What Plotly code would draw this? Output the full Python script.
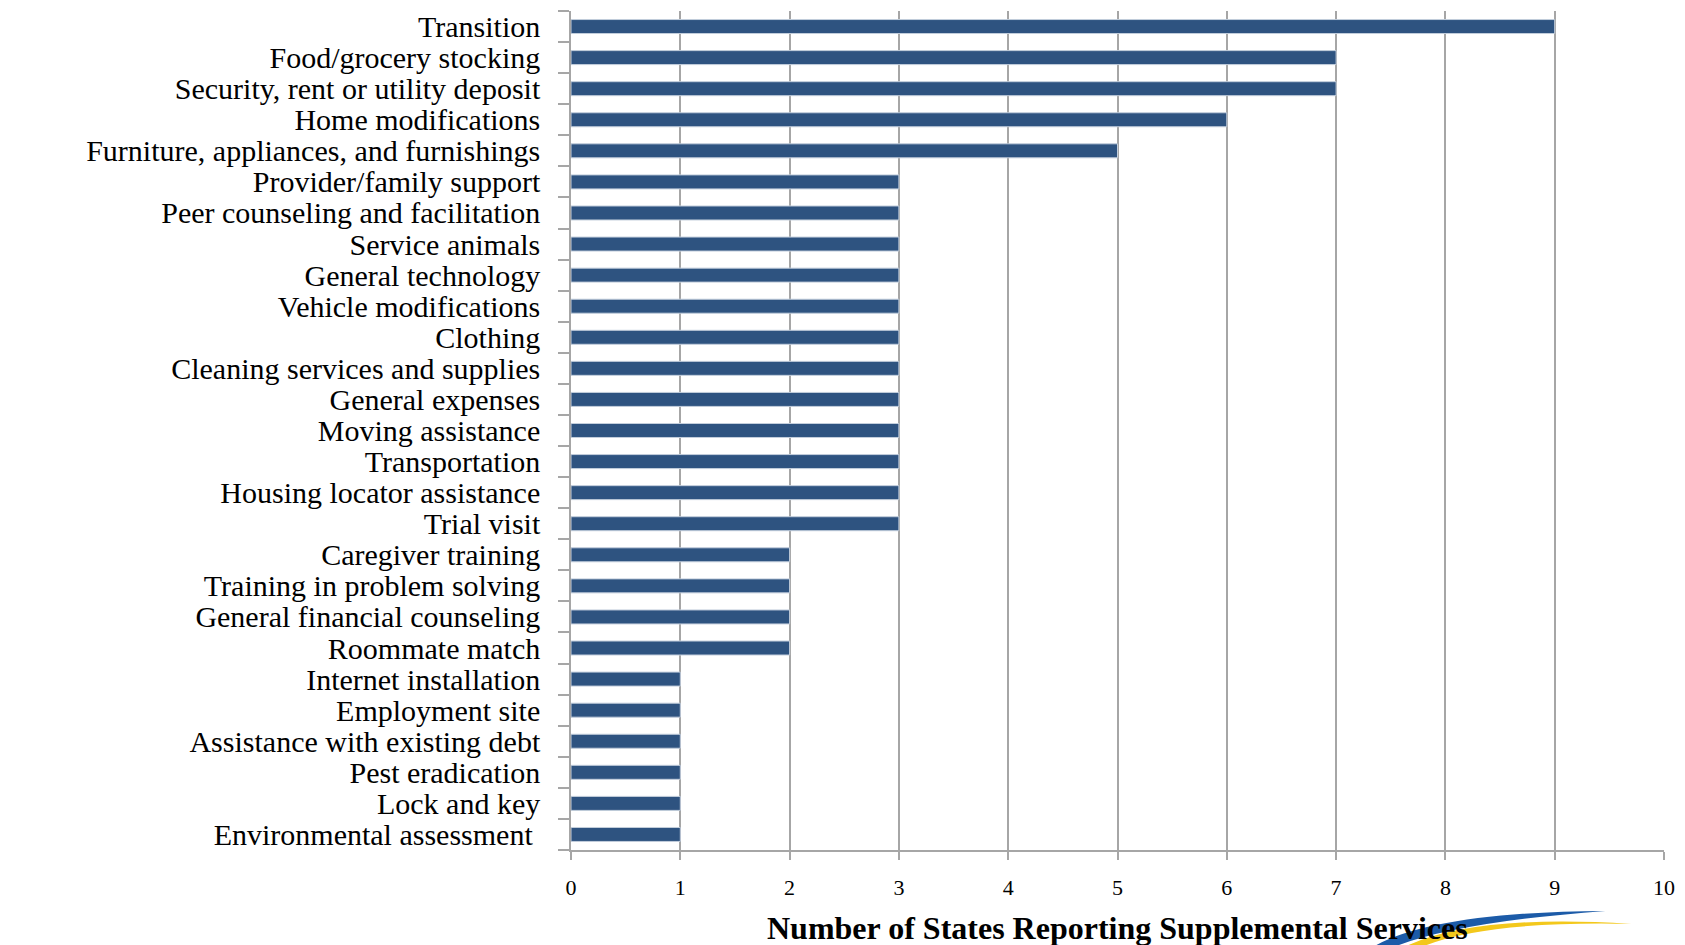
import plotly.graph_objects as go

categories = [
    "Transition",
    "Food/grocery stocking",
    "Security, rent or utility deposit",
    "Home modifications",
    "Furniture, appliances, and furnishings",
    "Provider/family support",
    "Peer counseling and facilitation",
    "Service animals",
    "General technology",
    "Vehicle modifications",
    "Clothing",
    "Cleaning services and supplies",
    "General expenses",
    "Moving assistance",
    "Transportation",
    "Housing locator assistance",
    "Trial visit",
    "Caregiver training",
    "Training in problem solving",
    "General financial counseling",
    "Roommate match",
    "Internet installation",
    "Employment site",
    "Assistance with existing debt",
    "Pest eradication",
    "Lock and key",
    "Environmental assessment\u00a0",
]
values = [9, 7, 7, 6, 5, 3, 3, 3, 3, 3, 3, 3, 3, 3, 3, 3, 3, 2, 2, 2, 2, 1, 1, 1, 1, 1, 1]
x_ticks = list(range(0, 11))
x_title = "<b>Number of States Reporting Supplemental Services</b>"

W, H = 1685, 945
L, R, T, B = 571, 1671, 10, 850  # plot area in pixels

def px(xp):
    return (xp - L) / (R - L)

def py(yp):
    return (B - yp) / (B - T)

GRAY = "#A6A6A6"
SERIF = "Liberation Serif"

fig = go.Figure()
fig.add_trace(go.Bar(
    y=categories,
    x=values,
    orientation="h",
    width=0.45,
    marker=dict(color="#2E5380", line=dict(color="#C3CEDC", width=1)),
    hoverinfo="x+y",
))

# decorative logo swoosh (bottom right)
blue_path = (
    f"M {px(1380)},{py(946)} Q {px(1442)},{py(912)} {px(1612)},{py(911)} "
    f"Q {px(1465)},{py(922)} {px(1402)},{py(946)} Z"
)
yellow_path = (
    f"M {px(1412)},{py(946)} Q {px(1482)},{py(914)} {px(1638)},{py(924)} "
    f"Q {px(1492)},{py(921)} {px(1430)},{py(946)} Z"
)
shapes = [
    dict(type="path", xref="paper", yref="paper", path=blue_path,
         fillcolor="#1C5BA8", line=dict(width=0), layer="above"),
    dict(type="path", xref="paper", yref="paper", path=yellow_path,
         fillcolor="#F3C81C", line=dict(width=0), layer="above"),
]

fig.update_layout(
    width=W, height=H,
    margin=dict(l=L, r=W - R, t=T, b=H - B, pad=0),
    plot_bgcolor="white", paper_bgcolor="white",
    showlegend=False,
    font=dict(family=SERIF, color="black"),
    shapes=shapes,
    annotations=[dict(
        text=x_title, xref="paper", yref="paper", x=0.5, y=py(928),
        xanchor="center", yanchor="middle", showarrow=False,
        font=dict(family=SERIF, size=32, color="black"),
    )],
    xaxis=dict(
        range=[0, 10], tickvals=x_ticks, ticktext=[str(v) for v in x_ticks],
        showgrid=True, gridcolor=GRAY, gridwidth=1.5,
        showline=True, linecolor=GRAY, linewidth=1.5,
        ticks="outside", ticklen=8, tickcolor=GRAY, tickwidth=1.5,
        tickfont=dict(family=SERIF, size=22, color="black"),
        ticklabelstandoff=9,
        zeroline=False, fixedrange=True,
    ),
    yaxis=dict(
        categoryorder="array", categoryarray=categories, autorange="reversed",
        tickmode="array", tickvals=categories, ticktext=categories,
        showgrid=False, showline=True, linecolor=GRAY, linewidth=1.5,
        ticks="outside", ticklen=11, tickcolor=GRAY, tickwidth=1.5,
        tickson="boundaries",
        tickfont=dict(family=SERIF, size=30, color="black"),
        ticklabelstandoff=23,
        fixedrange=True,
    ),
)

fig.write_html(
    "out.html",
    config={"displayModeBar": False},
    post_script="document.body.style.margin='0';document.body.style.overflow='hidden';",
)
